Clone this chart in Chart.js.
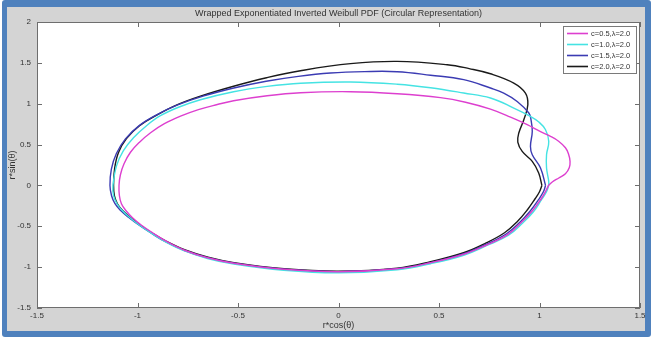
<!DOCTYPE html>
<html>
<head>
<meta charset="utf-8">
<script src="https://cdn.jsdelivr.net/npm/chart.js@4/dist/chart.umd.min.js"></script>
<style>
  html, body { margin: 0; padding: 0; background: #ffffff; }
  #frame { position: absolute; left: 2px; top: 0px; width: 649px; height: 337px; background: #4f81bd; border-radius: 3px; }
  #inner { position: absolute; left: 7px; top: 7px; width: 638px; height: 324px; background: #d4d4d4; }
  #wrap { position: absolute; left: 0; top: 0; width: 652px; height: 340px; }
</style>
</head>
<body>
<div id="frame"></div>
<div id="inner"></div>
<div id="wrap"><canvas id="c" width="652" height="340"></canvas></div>
<script>
// ---- data ----
const seriesLabels = ["c=0.5,\u03bb=2.0", "c=1.0,\u03bb=2.0", "c=1.5,\u03bb=2.0", "c=2.0,\u03bb=2.0"];
const seriesColors = ["#dd3fcf", "#45e3e3", "#3b3bb3", "#1a1a1a"];

const magentaX = [1.045, 1.065, 1.096, 1.129, 1.148, 1.152, 1.144, 1.129, 1.095, 1.055, 1.005, 0.939, 0.856, 0.756, 0.632, 0.507, 0.292, 0.060, -0.189, -0.355, -0.522, -0.603, -0.697, -0.786, -0.866, -0.935, -0.990, -1.035, -1.067, -1.085, -1.092, -1.090, -1.080, -1.057, -1.025, -0.980, -0.925, -0.853, -0.766, -0.652, -0.521, -0.272, 0.000, 0.292, 0.458, 0.623, 0.734, 0.841, 0.908, 0.965, 1.007, 1.032, 1.045];
const magentaY = [0.000, 0.045, 0.091, 0.143, 0.217, 0.294, 0.388, 0.461, 0.541, 0.600, 0.657, 0.743, 0.835, 0.933, 1.018, 1.074, 1.122, 1.147, 1.135, 1.098, 1.037, 0.990, 0.927, 0.847, 0.755, 0.645, 0.529, 0.406, 0.266, 0.131, 0.000, -0.126, -0.224, -0.310, -0.395, -0.487, -0.579, -0.689, -0.793, -0.885, -0.952, -1.026, -1.056, -1.020, -0.946, -0.842, -0.732, -0.603, -0.457, -0.310, -0.169, -0.065, 0.000];

const cyanX = [1.046, 1.046, 1.035, 1.035, 1.046, 1.030, 0.995, 0.955, 0.872, 0.756, 0.623, 0.458, 0.292, 0.060, -0.189, -0.355, -0.522, -0.687, -0.796, -0.886, -0.955, -1.020, -1.070, -1.104, -1.122, -1.119, -1.102, -1.077, -1.040, -0.993, -0.933, -0.858, -0.769, -0.652, -0.521, -0.272, 0.000, 0.292, 0.458, 0.623, 0.736, 0.846, 0.915, 0.970, 1.010, 1.035, 1.046];
const cyanY = [0.000, 0.049, 0.213, 0.376, 0.539, 0.682, 0.780, 0.845, 0.947, 1.070, 1.131, 1.196, 1.239, 1.266, 1.251, 1.212, 1.147, 1.049, 0.957, 0.853, 0.731, 0.584, 0.425, 0.242, 0.000, -0.126, -0.224, -0.304, -0.389, -0.481, -0.581, -0.693, -0.799, -0.894, -0.962, -1.038, -1.069, -1.032, -0.958, -0.854, -0.738, -0.610, -0.463, -0.322, -0.175, -0.077, 0.000];

const blueX = [1.030, 1.005, 0.964, 0.955, 0.964, 0.958, 0.947, 0.889, 0.822, 0.756, 0.623, 0.458, 0.292, 0.130, -0.040, -0.200, -0.360, -0.521, -0.670, -0.800, -0.900, -0.990, -1.060, -1.105, -1.130, -1.137, -1.129, -1.112, -1.085, -1.045, -0.995, -0.935, -0.861, -0.770, -0.652, -0.521, -0.272, 0.000, 0.292, 0.458, 0.623, 0.731, 0.836, 0.900, 0.955, 0.995, 1.020, 1.030];
const blueY = [0.000, 0.213, 0.376, 0.477, 0.661, 0.800, 0.886, 1.028, 1.131, 1.192, 1.294, 1.349, 1.392, 1.393, 1.376, 1.335, 1.275, 1.192, 1.095, 0.985, 0.870, 0.735, 0.570, 0.390, 0.200, 0.000, -0.126, -0.224, -0.304, -0.389, -0.481, -0.579, -0.689, -0.793, -0.885, -0.952, -1.026, -1.056, -1.020, -0.946, -0.836, -0.726, -0.591, -0.457, -0.310, -0.175, -0.075, 0.000];

const blackX = [1.012, 0.996, 0.964, 0.914, 0.892, 0.897, 0.922, 0.942, 0.930, 0.872, 0.756, 0.650, 0.541, 0.292, 0.060, -0.189, -0.358, -0.522, -0.687, -0.801, -0.900, -0.990, -1.055, -1.095, -1.114, -1.119, -1.115, -1.100, -1.075, -1.037, -0.990, -0.930, -0.856, -0.766, -0.649, -0.520, -0.271, 0.000, 0.292, 0.458, 0.622, 0.726, 0.826, 0.891, 0.940, 0.978, 1.000, 1.012];
const blackY = [0.000, 0.152, 0.294, 0.416, 0.531, 0.641, 0.804, 0.988, 1.131, 1.253, 1.367, 1.430, 1.477, 1.518, 1.490, 1.404, 1.318, 1.214, 1.092, 0.988, 0.866, 0.731, 0.572, 0.400, 0.204, 0.000, -0.126, -0.224, -0.304, -0.389, -0.481, -0.579, -0.685, -0.787, -0.879, -0.946, -1.020, -1.050, -1.013, -0.934, -0.824, -0.714, -0.579, -0.438, -0.297, -0.163, -0.077, 0.000];

const xTickValues = [-1.5, -1, -0.5, 0, 0.5, 1, 1.5];
const xTickLabels = ["-1.5", "-1", "-0.5", "0", "0.5", "1", "1.5"];
const yTickValues = [-1.5, -1, -0.5, 0, 0.5, 1, 1.5, 2];
const yTickLabels = ["-1.5", "-1", "-0.5", "0", "0.5", "1", "1.5", "2"];

const titleText = "Wrapped Exponentiated Inverted Weibull PDF (Circular Representation)";
const xTitle = "r*cos(\u03b8)";
const yTitle = "r*sin(\u03b8)";
// ----------------------------------------------

const FONT = "'Liberation Sans Narrow', 'Liberation Sans', Arial, sans-serif";
const pts = (xs, ys) => xs.map((x, i) => ({ x: x, y: ys[i] }));
const allX = [magentaX, cyanX, blueX, blackX];
const allY = [magentaY, cyanY, blueY, blackY];

const datasets = seriesLabels.map((lab, i) => ({
  label: lab,
  data: pts(allX[i], allY[i]),
  borderColor: seriesColors[i],
  backgroundColor: seriesColors[i],
  borderWidth: 1.4,
  showLine: true,
  pointRadius: 0,
  tension: 0.4,
  fill: false
}));

const framePlugin = {
  id: 'framePlugin',
  beforeDatasetsDraw(chart) {
    const { ctx, chartArea: a } = chart;
    ctx.save();
    ctx.fillStyle = '#ffffff';
    ctx.fillRect(a.left, a.top, a.right - a.left, a.bottom - a.top);
    ctx.restore();
  },
  afterDatasetsDraw(chart) {
    const { ctx, chartArea: a, scales } = chart;
    ctx.save();
    ctx.strokeStyle = '#6e6e6e';
    ctx.lineWidth = 1;
    ctx.strokeRect(Math.round(a.left) + 0.5, Math.round(a.top) + 0.5, Math.round(a.right - a.left) - 1, Math.round(a.bottom - a.top) - 1);
    const tl = 5;
    ctx.beginPath();
    xTickValues.forEach(v => {
      const px = Math.round(scales.x.getPixelForValue(v)) + 0.5;
      ctx.moveTo(px, a.bottom); ctx.lineTo(px, a.bottom - tl);
      ctx.moveTo(px, a.top); ctx.lineTo(px, a.top + tl);
    });
    yTickValues.forEach(v => {
      const py = Math.round(scales.y.getPixelForValue(v)) + 0.5;
      ctx.moveTo(a.left, py); ctx.lineTo(a.left + tl, py);
      ctx.moveTo(a.right, py); ctx.lineTo(a.right - tl, py);
    });
    ctx.stroke();

    // legend box
    const lx = 563.5, ly = 26.5, lw = 73, lh = 47;
    ctx.fillStyle = '#ffffff';
    ctx.fillRect(lx, ly, lw, lh);
    ctx.strokeStyle = '#7a7a7a';
    ctx.strokeRect(lx, ly, lw, lh);
    ctx.font = '7.5px ' + FONT;
    ctx.textBaseline = 'middle';
    ctx.textAlign = 'left';
    seriesLabels.forEach((lab, i) => {
      const yy = 33.5 + i * 11;
      ctx.strokeStyle = seriesColors[i];
      ctx.lineWidth = 1.6;
      ctx.beginPath();
      ctx.moveTo(567, yy); ctx.lineTo(588, yy);
      ctx.stroke();
      ctx.fillStyle = '#333333';
      ctx.fillText(lab, 591, yy + 0.5);
    });
    ctx.restore();
  }
};

new Chart(document.getElementById('c'), {
  type: 'scatter',
  data: { datasets: datasets },
  plugins: [framePlugin],
  options: {
    responsive: false,
    animation: false,
    layout: { padding: { left: 0, right: 12, top: 0, bottom: 0 } },
    plugins: {
      legend: { display: false },
      tooltip: { enabled: false },
      title: {
        display: true,
        text: titleText,
        fullSize: false,
        color: '#333333',
        font: { family: FONT, size: 9, weight: 'normal' },
        padding: { top: 8, bottom: 3.2 }
      }
    },
    scales: {
      x: {
        type: 'linear',
        min: -1.5, max: 1.5,
        afterBuildTicks: s => { s.ticks = xTickValues.map(v => ({ value: v })); },
        afterFit: s => { s.height = 32; },
        grid: { display: false, drawTicks: false },
        border: { display: false },
        ticks: {
          padding: 3,
          color: '#333333',
          maxRotation: 0,
          autoSkip: false,
          font: { family: FONT, size: 8 },
          callback: (v) => xTickLabels[xTickValues.indexOf(v)]
        },
        title: {
          display: true, text: xTitle, color: '#333333',
          font: { family: FONT, size: 9 },
          padding: { top: 0, bottom: 8.6 }
        }
      },
      y: {
        type: 'linear',
        min: -1.5, max: 2,
        afterBuildTicks: s => { s.ticks = yTickValues.map(v => ({ value: v })); },
        afterFit: s => { s.width = 37; },
        grid: { display: false, drawTicks: false },
        border: { display: false },
        ticks: {
          padding: 6,
          color: '#333333',
          autoSkip: false,
          font: { family: FONT, size: 8 },
          callback: (v) => yTickLabels[yTickValues.indexOf(v)]
        },
        title: {
          display: true, text: yTitle, color: '#333333',
          font: { family: FONT, size: 9 },
          padding: { top: 7.6, bottom: 0 }
        }
      }
    }
  }
});
</script>
</body>
</html>
